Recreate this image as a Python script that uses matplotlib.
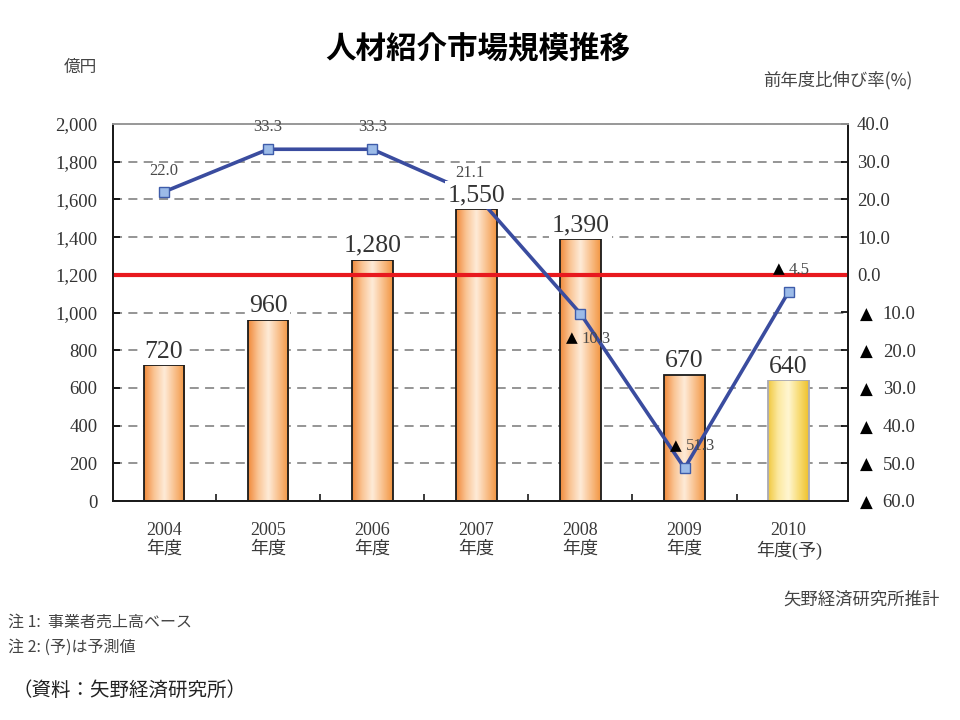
import numpy as np
import matplotlib
matplotlib.use('Agg')
import matplotlib.pyplot as plt
from matplotlib.colors import LinearSegmentedColormap

# ---- data ----
years = ['2004', '2005', '2006', '2007', '2008', '2009', '2010']
year_suffix = ['年度', '年度', '年度', '年度', '年度', '年度', '年度(予)']
market = [720, 960, 1280, 1550, 1390, 670, 640]          # 億円
growth = [22.0, 33.3, 33.3, 21.1, -10.3, -51.3, -4.5]    # 前年度比伸び率(%)
forecast = [False, False, False, False, False, False, True]
left_ticks = [0, 200, 400, 600, 800, 1000, 1200, 1400, 1600, 1800, 2000]
right_ticks = [40, 30, 20, 10, 0, -10, -20, -30, -40, -50, -60]

# ---- styles ----
SERIF = ['Liberation Serif', 'Noto Sans CJK JP', 'DejaVu Sans']
CJK = ['Noto Sans CJK JP', 'DejaVu Sans']
TRI = ['DejaVu Sans']
label_offsets = [(0, 15), (0, 16), (0, 16), (-5, 16), (4, -18), (4, 16), (3, 16)]  # points

W, H = 960, 720
fig = plt.figure(figsize=(9.6, 7.2), dpi=100)
ax = fig.add_axes([113 / W, 1 - 501 / H, 735 / W, 377 / H])
ax2 = ax.twinx()

x = np.arange(len(years))

orange = LinearSegmentedColormap.from_list('o', ['#F0893A', '#FAC595', '#FEEBD8', '#F9C08C', '#F29541'])
yellow = LinearSegmentedColormap.from_list('y', ['#F0C840', '#FCE9A0', '#FFF6D2', '#F8DD78', '#EEC12C'])

bars = ax.bar(x, market, width=0.39, facecolor='none',
              edgecolor=['#A9A9B5' if f else '#1a1a1a' for f in forecast],
              linewidth=1.3, zorder=2)
grad = np.linspace(0, 1, 256).reshape(1, -1)
for b, f in zip(bars, forecast):
    im = ax.imshow(grad, cmap=yellow if f else orange, aspect='auto',
                   extent=[b.get_x(), b.get_x() + b.get_width(), 0, b.get_height()],
                   zorder=1.9, interpolation='bicubic')
    im.set_clip_path(b)

ax.set_xlim(-0.49, 6.57)
ax.set_ylim(0, 2000)
ax2.set_ylim(-60, 40)

ax.set_yticks(left_ticks)
ax.set_yticklabels([f'{t:,}' for t in left_ticks], family=SERIF)
ax.yaxis.grid(True, color='#8c8c8c', lw=1.3, ls=(0, (5, 3.5)), zorder=0.5)
ax.set_axisbelow(True)

ax.set_xticks(x)
ax.set_xticklabels([f'{y}\n{s}' for y, s in zip(years, year_suffix)], family=SERIF,
                   fontsize=13, color='#3a3a3a', linespacing=1.15)
ax.set_xticks(x[:-1] + 0.5, minor=True)
ax.tick_params(axis='x', which='major', length=0, pad=15)
ax.tick_params(axis='x', which='minor', direction='in', length=5, width=1.2, color='#1a1a1a')
ax.tick_params(axis='y', direction='in', length=5, width=1.2, pad=11, labelsize=13.5, labelcolor='#333333')

# right axis: numbers as tick-aligned texts, with black ▲ for negative values
ax2.set_yticks(right_ticks)
ax2.set_yticklabels([])
ax2.tick_params(axis='y', direction='in', length=5, width=1.2)
ytr = ax2.get_yaxis_transform()
for t in right_ticks:
    if t >= 0:
        ax2.annotate(f'{t:.1f}', (1, t), xycoords=ytr, xytext=(6.5, 0), textcoords='offset points',
                     ha='left', va='center_baseline', fontsize=13.5, family=SERIF, color='#333333',
                     annotation_clip=False)
    else:
        ax2.annotate('▲', (1, t), xycoords=ytr, xytext=(8.5, 0), textcoords='offset points',
                     ha='left', va='center_baseline', fontsize=12, family=TRI, color='#000000',
                     annotation_clip=False)
        ax2.annotate(f'{abs(t):.1f}', (1, t), xycoords=ytr, xytext=(25, 0), textcoords='offset points',
                     ha='left', va='center_baseline', fontsize=13.5, family=SERIF, color='#333333',
                     annotation_clip=False)

for a in (ax, ax2):
    for s in ('left', 'right', 'bottom'):
        a.spines[s].set_color('#1a1a1a')
        a.spines[s].set_linewidth(1.3)
    a.spines['top'].set_color('#9a9a9a')
    a.spines['top'].set_linewidth(1.3)

# zero line and growth line
ax2.axhline(0, color='#E8191E', lw=3, zorder=2)
ax2.plot(x, growth, color='#3A4C9F', lw=2.6, marker='s', ms=6.5,
         mfc='#9CBBE8', mec='#3E5CAA', mew=1.0, zorder=3)

for xi, g, off in zip(x, growth, label_offsets):
    if g >= 0:
        ax2.annotate(f'{g:.1f}', (xi, g), xytext=off, textcoords='offset points',
                     ha='center', va='center', fontsize=12, family=SERIF,
                     color='#4a4a4a', zorder=4)
    else:
        ax2.annotate('▲', (xi, g), xytext=(off[0] - 6, off[1] + 0.5), textcoords='offset points',
                     ha='right', va='center', fontsize=11, family=TRI,
                     color='#000000', zorder=4)
        ax2.annotate(f'{abs(g):.1f}', (xi, g), xytext=(off[0] - 3, off[1]), textcoords='offset points',
                     ha='left', va='center', fontsize=12, family=SERIF,
                     color='#4a4a4a', zorder=4)

# bar value labels (white background hides the line underneath)
for xi, v in zip(x, market):
    ax2.annotate(f'{v:,}', (xi, v), xycoords=ax.transData, xytext=(0, 2),
                 textcoords='offset points', ha='center', va='bottom',
                 fontsize=18.5, family=SERIF, color='#333333', zorder=6,
                 bbox=dict(boxstyle='square,pad=0.1', fc='white', ec='none'))

# texts
fig.text(478 / W, 1 - 48 / H, '人材紹介市場規模推移', ha='center', va='center',
         fontsize=22, weight='bold', family=CJK, color='#000000')
fig.text(80 / W, 1 - 67 / H, '億円', ha='center', va='center', fontsize=12,
         family=CJK, color='#444444')
fig.text(913 / W, 1 - 80 / H, '前年度比伸び率(%)', ha='right', va='center', fontsize=12.5,
         family=CJK, color='#444444')
fig.text(940 / W, 1 - 600 / H, '矢野経済研究所推計', ha='right', va='center', fontsize=12.5,
         family=CJK, color='#444444')
fig.text(8 / W, 1 - 622 / H, '注 1:  事業者売上高ベース', ha='left', va='center', fontsize=11.5,
         family=CJK, color='#444444')
fig.text(8 / W, 1 - 647 / H, '注 2: (予)は予測値', ha='left', va='center', fontsize=11.5,
         family=CJK, color='#444444')
fig.text(12 / W, 1 - 690 / H, '（資料：矢野経済研究所）', ha='left', va='center', fontsize=14,
         family=CJK, color='#222222')

fig.savefig('out.png', dpi=100)
